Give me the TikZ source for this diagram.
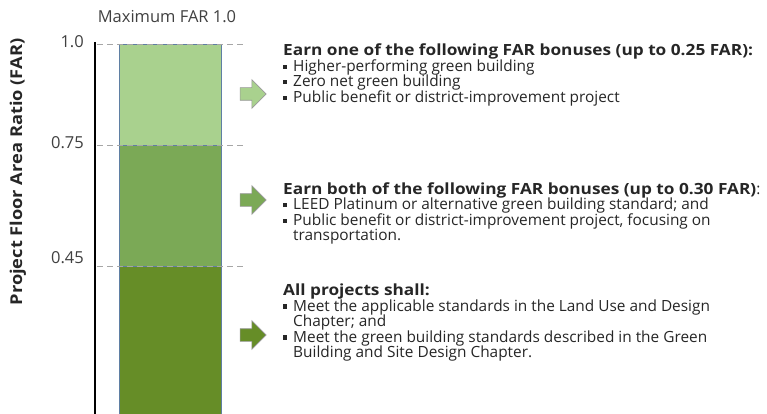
\documentclass[tikz,border=0pt]{standalone}
\usepackage{fontspec}
\setmainfont{Open Sans}[BoldFeatures={FakeStretch=1.12}]
\usetikzlibrary{shapes.arrows}

\definecolor{lightgrn}{HTML}{A9D18E}
\definecolor{midgrn}{HTML}{7BA956}
\definecolor{darkgrn}{HTML}{668D27}
\definecolor{edgeblue}{HTML}{5F7FA3}
\definecolor{tickgray}{HTML}{404040}
\definecolor{ink}{HTML}{262626}

% square bullet and the indent of a wrapped line
\newcommand{\bul}{\makebox[0.65em][l]{\raisebox{0.17em}{\rule{0.27em}{0.27em}}}}
\newcommand{\wrapin}{\hspace*{0.65em}}
% tight leading for the rule lists
\newcommand{\rulefont}{\fontsize{15.4}{15.5}\selectfont\lineskiplimit=-10pt\relax}

\tikzset{
  band/.style={draw=edgeblue, line width=0.6pt},
  level/.style={dashed, dash pattern=on 6pt off 4pt, draw=gray!70, line width=0.8pt},
  tick/.style={anchor=east, inner sep=0pt, text=tickgray, font=\fontsize{16.5}{18}\selectfont},
  goarrow/.style={single arrow, draw=gray!80, line width=0.6pt, inner sep=0pt,
    text height=12pt, text depth=0pt, minimum height=26pt,
    single arrow head extend=8pt},
  rules/.style={anchor=north west, align=left, inner sep=0pt, text=ink, font=\rulefont}
}

\begin{document}
\begin{tikzpicture}[x=1pt, y=-1pt]
\useasboundingbox (0,0) rectangle (767,414);

% levels of the FAR column
\coordinate (top) at (119,44);
\coordinate (q75) at (119,145);
\coordinate (q45) at (119,266);
\coordinate (foot) at (221,416);

\fill[darkgrn] (q45) rectangle (foot);
\fill[midgrn] (q75) rectangle (221,266);
\fill[lightgrn] (top) rectangle (221,145);
\draw[band] (top) rectangle (221,145);
\draw[band] (q75) rectangle (221,266);
\draw[band] (q45) -- (119,416) (221,266) -- (221,416);

\draw[level] (97,44) -- (243,44);
\draw[level] (97,145) -- (243,145);
\draw[level] (97,266) -- (243,266);

% axis
\draw[line width=1.5pt] (95,42) -- (95,416);
\node[tick] (t10) at (84,41.5) {1.0};
\node[tick] (t75) at (84,142.5) {0.75};
\node[tick] (t45) at (84,257.5) {0.45};

\node[text=tickgray, font=\fontsize{16.5}{18}\selectfont] (maxfar) at (167,17) {Maximum FAR 1.0};
\node[rotate=90, text=ink, font=\bfseries\fontsize{16.3}{18}\selectfont] (ylab) at (18,172) {Project Floor Area Ratio (FAR)};

% arrows to the rules
\node[goarrow, fill=lightgrn] (a1) at (250,94) {};
\node[goarrow, fill=midgrn] (a2) at (250,200) {};
\node[goarrow, fill=darkgrn] (a3) at (250,335) {};

\node[rules] (bonus1) at (283,43.8) {%
  \textbf{Earn one of the following FAR bonuses (up to 0.25 FAR):}\\
  \bul Higher-performing green building\\
  \bul Zero net green building\\
  \bul Public benefit or district-improvement project};

\node[rules] (bonus2) at (283,182.3) {%
  \textbf{Earn both of the following FAR bonuses (up to 0.30 FAR)}:\\
  \bul LEED Platinum or alternative green building standard; and\\
  \bul Public benefit or district-improvement project, focusing on\\
  \wrapin transportation.};

\node[rules] (base) at (283,283.8) {%
  \textbf{All projects shall:}\\
  \bul Meet the applicable standards in the Land Use and Design\\
  \wrapin Chapter; and\\
  \bul Meet the green building standards described in the Green\\
  \wrapin Building and Site Design Chapter.};
\end{tikzpicture}
\end{document}
